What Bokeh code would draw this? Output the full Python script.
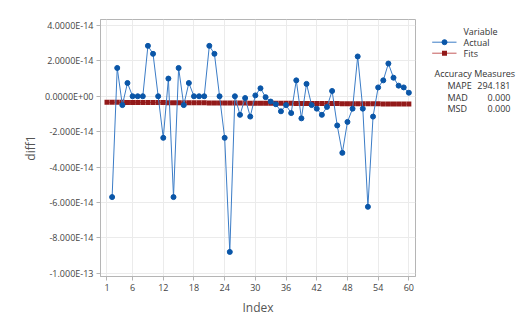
from bokeh.plotting import figure
from bokeh.models import Range1d, FixedTicker
from bokeh.layouts import row
from bokeh.core.properties import value
from bokeh.embed import file_html
from bokeh.resources import INLINE

# values in units of 1e-14
index_actual = list(range(2, 61))
actual = [-5.7, 1.6, -0.5, 0.75, 0.0, 0.0, 0.0, 2.85, 2.4, 0.0,
          -2.35, 1.0, -5.7, 1.6, -0.5, 0.75, 0.0, 0.0, 0.0, 2.85,
          2.4, 0.0, -2.35, -8.8, 0.0, -1.05, -0.1, -1.15, 0.05, 0.45,
          -0.05, -0.3, -0.45, -0.85, -0.5, -0.95, 0.9, -1.25, 0.7, -0.5,
          -0.7, -1.05, -0.6, 0.3, -1.65, -3.2, -1.45, -0.7, 2.25, -0.7,
          -6.25, -1.15, 0.5, 0.9, 1.85, 1.05, 0.6, 0.5, 0.2]
index_fits = list(range(1, 61))
fits = [-0.340, -0.342, -0.343, -0.345, -0.347, -0.348, -0.350, -0.352, -0.354, -0.355,
        -0.357, -0.359, -0.360, -0.362, -0.364, -0.365, -0.367, -0.369, -0.371, -0.372,
        -0.374, -0.376, -0.377, -0.379, -0.381, -0.382, -0.384, -0.386, -0.388, -0.389,
        -0.391, -0.393, -0.394, -0.396, -0.398, -0.399, -0.401, -0.403, -0.405, -0.406,
        -0.408, -0.410, -0.411, -0.413, -0.415, -0.416, -0.418, -0.420, -0.422, -0.423,
        -0.425, -0.427, -0.428, -0.430, -0.432, -0.433, -0.435, -0.437, -0.438, -0.440]
x_ticks = [1, 6, 12, 18, 24, 30, 36, 42, 48, 54, 60]
y_ticks = [4, 2, 0, -2, -4, -6, -8, -10]
y_tick_labels = ["4.0000E-14", "2.0000E-14", "0.0000E+00", "-2.000E-14",
                 "-4.000E-14", "-6.000E-14", "-8.000E-14", "-1.000E-13"]
legend_title = "Variable"
series_names = ["Actual", "Fits"]
measures_title = "Accuracy Measures"
measure_names = ["MAPE", "MAD", "MSD"]
measure_values = ["294.181", "0.000", "0.000"]

FONT = "Open Sans"
BLUE = "#0a56a8"
BLUE_LINE = "#3b7cc6"
RED = "#931a1a"
RED_LINE = "#c45a5a"

p = figure(width=417, height=320, output_backend="svg", toolbar_location=None,
           x_range=Range1d(-0.27, 61.3), y_range=Range1d(-10.19, 4.34),
           min_border_left=100, min_border_right=2, min_border_top=19,
           min_border_bottom=44)

p.outline_line_color = "#b5b5b5"
p.xgrid.grid_line_color = "#ebebeb"
p.ygrid.grid_line_color = "#ebebeb"

for ax in (p.xaxis[0], p.yaxis[0]):
    ax.axis_line_color = "#b5b5b5"
    ax.major_tick_line_color = "#b5b5b5"
    ax.major_tick_out = 4
    ax.major_tick_in = 0
    ax.minor_tick_line_color = None
    ax.major_label_text_font = FONT
    ax.major_label_text_font_size = "9px"
    ax.major_label_text_color = "#444444"
    ax.axis_label_text_font = FONT
    ax.axis_label_text_font_size = "12px"
    ax.axis_label_text_font_style = "normal"
    ax.axis_label_text_color = "#555555"

p.xaxis.ticker = FixedTicker(ticks=x_ticks)
p.yaxis.ticker = FixedTicker(ticks=y_ticks)
p.yaxis.major_label_overrides = {t: l for t, l in zip(y_ticks, y_tick_labels)}
p.xaxis.axis_label = "Index"
p.yaxis.axis_label = "diff1"
p.xaxis.major_label_standoff = 3
p.xaxis.axis_label_standoff = 5
p.yaxis.major_label_standoff = 3
p.yaxis.axis_label_standoff = 3

p.line(index_fits, fits, line_color=RED_LINE, line_width=1)
p.scatter(index_fits, fits, marker="square", size=5, fill_color=RED, line_color=None)
p.line(index_actual, actual, line_color=BLUE_LINE, line_width=1)
p.scatter(index_actual, actual, marker="circle", size=5, fill_color=BLUE, line_color=BLUE)

# legend / accuracy-measures panel (pixel coordinates, y downward).
# The row layout aligns this panel's frame with the main plot frame (y 19..276).
q = figure(width=108, height=320, output_backend="svg", toolbar_location=None,
           x_range=Range1d(0, 108), y_range=Range1d(276, 19),
           min_border_left=0, min_border_right=0, min_border_top=19,
           min_border_bottom=44)
q.axis.visible = False
q.grid.visible = False
q.outline_line_color = None

tx = dict(text_font=value(FONT), text_font_size="9px", text_color="#333333",
          text_baseline="middle")
q.text([46], [30.7], text=[legend_title], text_align="left", **tx)
q.line([14.7, 39], [41.7, 41.7], line_color=BLUE_LINE, line_width=1)
q.scatter([27], [41.7], marker="circle", size=5, fill_color=BLUE, line_color=BLUE)
q.line([14.7, 39], [52.7, 52.7], line_color=RED_LINE, line_width=1)
q.scatter([27], [52.7], marker="square", size=5, fill_color=RED, line_color=None)
q.text([46, 46], [41.7, 52.7], text=series_names, text_align="left", **tx)
q.text([17], [73.3], text=[measures_title], text_align="left", **tx)
ys = [84.7, 96.5, 108.3]
q.text([30] * 3, ys, text=measure_names, text_align="left", **tx)
q.text([93] * 3, ys, text=measure_values, text_align="right", **tx)

layout = row(p, q, spacing=0)
open("out.html", "w").write(file_html(layout, INLINE))
